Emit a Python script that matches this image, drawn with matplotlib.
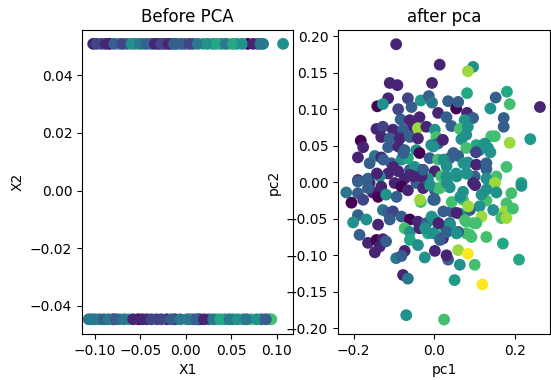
import numpy as np
import matplotlib
matplotlib.use('Agg')
import matplotlib.pyplot as plt

# color levels (0 = dark purple ... 1 = yellow)
# ---- before PCA: two rows of X2
x2_top = 0.0508
x2_bot = -0.0446
x1_top = [-0.102, -0.093, -0.084, -0.074, -0.065, -0.056, -0.047, -0.038, -0.030,
          -0.023, -0.016, -0.010, -0.001, 0.008, 0.019, 0.030, 0.039, 0.048,
          0.056, 0.068, 0.079, 0.085, 0.107,
          -0.098, -0.088, -0.079, -0.070, -0.060, -0.051, -0.043, -0.034, -0.027,
          -0.019, -0.013, -0.005, 0.004, 0.013, 0.024, 0.034, 0.044, 0.052,
          0.062, 0.074, 0.082]
c_top = [0.1, 0.2, 0.0, 0.6, 0.3, 0.5, 0.5, 0.3, 0.1,
         0.1, 0.3, 0.3, 0.3, 0.3, 0.6, 0.5, 0.5, 0.85,
         0.5, 0.0, 0.3, 0.4, 0.5,
         0.2, 0.1, 0.3, 0.2, 0.5, 0.4, 0.3, 0.1, 0.2,
         0.1, 0.3, 0.3, 0.2, 0.4, 0.5, 0.6, 0.4, 0.6,
         0.5, 0.1, 0.4]
x1_bot = [-0.107, -0.104, -0.095, -0.080, -0.073, -0.063, -0.052, -0.043, -0.032,
          -0.021, -0.012, 0.001, 0.008, 0.015, 0.025, 0.034, 0.043, 0.052,
          0.063, 0.072, 0.083, 0.092, 0.094,
          -0.100, -0.090, -0.085, -0.077, -0.068, -0.058, -0.048, -0.038, -0.027,
          -0.016, -0.006, 0.004, 0.012, 0.020, 0.030, 0.038, 0.048, 0.057,
          0.067, 0.078, 0.088]
c_bot = [0.4, 0.4, 0.4, 0.1, 0.5, 0.6, 0.0, 0.1, 0.2,
         0.1, 0.1, 0.5, 0.3, 0.0, 0.3, 0.7, 0.5, 0.5,
         0.5, 0.7, 0.3, 0.6, 0.7,
         0.4, 0.3, 0.4, 0.3, 0.4, 0.1, 0.1, 0.2, 0.2,
         0.3, 0.4, 0.4, 0.3, 0.1, 0.4, 0.6, 0.4, 0.5,
         0.4, 0.5, 0.3]

# ---- after PCA
pc1 = [-0.094, 0.014, -0.110, -0.091, -0.005, -0.114, -0.141, -0.127, -0.089, -0.065,
       -0.033, -0.013, -0.005, 0.010, -0.056, -0.083, -0.060, -0.036, -0.052, -0.040,
       -0.019, 0.002, 0.006, -0.143, -0.127, -0.102, -0.077, -0.131, -0.110, -0.085,
       -0.060, -0.040, -0.182, -0.176, -0.114, -0.089, -0.073, -0.044, -0.007, 0.010,
       -0.189, -0.147, -0.131, -0.160, -0.106, -0.081, -0.065, -0.036, -0.011, 0.010,
       -0.114, -0.089, -0.060, -0.032, -0.048, 0.002, -0.189, -0.164, -0.135, -0.073,
       -0.015, 0.018,
       0.097, 0.084, 0.082, 0.181, 0.153, 0.188, 0.140, 0.263, 0.035, 0.055,
       0.060, 0.082, 0.097, 0.076, 0.031, 0.043, 0.064, 0.084, 0.173, 0.173,
       0.142, 0.151, 0.188, 0.239, 0.068, 0.080, 0.022, 0.105, 0.126, 0.134,
       0.113, 0.080, 0.104, 0.140, 0.039, 0.060, 0.084, 0.105, 0.130, 0.130,
       0.180, 0.031, 0.055, 0.080, 0.101, 0.155, 0.130, 0.031, 0.151, 0.217,
       -0.218, -0.205, -0.189, -0.176, -0.189, -0.160, -0.152, -0.139, -0.164, -0.131,
       -0.119, -0.098, -0.081, -0.093, -0.065, -0.044, -0.027, -0.033, 0.002, 0.010,
       0.002, -0.189, -0.201, -0.168, -0.127, -0.114, -0.102, -0.110, -0.139, -0.081,
       -0.060, -0.040, -0.073, -0.060, -0.036, -0.019, -0.015, 0.002, 0.010, 0.022,
       -0.185, -0.164, -0.143, -0.127, -0.135, -0.147, -0.119, -0.073, -0.060, -0.040,
       -0.023, -0.094, -0.081, 0.002, -0.077, -0.065, -0.069, 0.025,
       0.217, 0.192, 0.180, 0.151, 0.155, 0.130, 0.130, 0.147, 0.176, 0.167,
       0.180, 0.196, 0.113, 0.118, 0.105, 0.130, 0.093, 0.080, 0.171, 0.211,
       0.060, 0.084, 0.064, 0.101, 0.051, 0.120, 0.039, 0.072, 0.097, 0.072,
       0.089, 0.064, 0.043, 0.039, 0.060, 0.031, 0.035, 0.031, 0.022, 0.080,
       -0.060, -0.031, -0.010, 0.015, 0.032, 0.056, 0.081, 0.102, 0.118, -0.035,
       -0.002, 0.044, 0.065, 0.085, 0.023, 0.056, -0.006, 0.011, 0.040, 0.077,
       0.098, -0.022, -0.002, 0.032, 0.056, 0.015, 0.089,
       -0.002, 0.023, 0.048, 0.073, 0.081, -0.027, -0.051, -0.101, -0.126, -0.142,
       -0.167, -0.076]
pc2 = [0.189, 0.161, 0.136, 0.133, 0.136, 0.115, 0.104, 0.107, 0.100, 0.115,
       0.112, 0.118, 0.109, 0.095, 0.103, 0.086, 0.085, 0.089, 0.076, 0.074,
       0.076, 0.072, 0.062, 0.073, 0.076, 0.072, 0.072, 0.062, 0.060, 0.060,
       0.062, 0.060, 0.057, 0.048, 0.048, 0.049, 0.044, 0.044, 0.051, 0.053,
       0.034, 0.036, 0.034, 0.026, 0.026, 0.031, 0.033, 0.040, 0.033, 0.031,
       0.012, 0.015, 0.017, 0.017, 0.021, 0.015, 0.003, 0.005, 0.008, 0.005,
       0.005, 0.008,
       0.158, 0.152, 0.122, 0.124, 0.116, 0.107, 0.101, 0.103, 0.111, 0.101,
       0.110, 0.095, 0.088, 0.085, 0.089, 0.077, 0.073, 0.076, 0.088, 0.076,
       0.063, 0.063, 0.054, 0.059, 0.059, 0.065, 0.058, 0.051, 0.053, 0.047,
       0.044, 0.047, 0.041, 0.041, 0.033, 0.036, 0.027, 0.024, 0.026, 0.018,
       0.021, 0.022, 0.012, 0.012, 0.008, 0.008, 0.005, 0.008, -0.001, -0.001,
       -0.014, -0.028, -0.015, -0.024, 0.001, -0.001, -0.014, -0.020, -0.008, -0.006,
       -0.017, -0.001, -0.006, -0.020, -0.011, -0.001, -0.008, -0.027, -0.011, -0.008,
       -0.024, -0.045, -0.055, -0.051, -0.038, -0.042, -0.040, -0.051, -0.058, -0.047,
       -0.051, -0.054, -0.063, -0.068, -0.063, -0.056, -0.070, -0.052, -0.065, -0.061,
       -0.072, -0.083, -0.079, -0.078, -0.088, -0.096, -0.081, -0.094, -0.079, -0.086,
       -0.103, -0.104, -0.101, -0.094, -0.127, -0.132, -0.182, -0.188,
       -0.005, -0.015, -0.029, -0.001, -0.014, -0.010, -0.025, -0.038, -0.040, -0.049,
       -0.049, -0.036, -0.033, -0.047, -0.056, -0.075, -0.075, -0.070, -0.084, -0.106,
       -0.093, -0.098, -0.113, -0.113, -0.134, -0.140, -0.007, -0.013, -0.001, -0.024,
       -0.038, -0.043, -0.040, -0.056, -0.068, -0.063, -0.106, -0.100, -0.077, -0.054,
       0.010, 0.008, -0.004, -0.008, -0.001, 0.008, 0.012, -0.004, -0.017, -0.024,
       -0.024, -0.027, -0.020, -0.033, -0.040, -0.042, -0.047, -0.056, -0.058, -0.052,
       -0.056, -0.063, -0.070, -0.068, -0.070, -0.079, -0.072,
       0.049, 0.031, 0.040, 0.026, 0.012, 0.017, 0.008, 0.021, 0.031, 0.012,
       0.003, 0.040]
pc_c = [0.1, 0.1, 0.1, 0.1, 0.1, 0.1, 0.0, 0.5, 0.2, 0.2,
        0.55, 0.3, 0.4, 0.1, 0.3, 0.3, 0.1, 0.1, 0.1, 0.85,
        0.1, 0.5, 0.7, 0.1, 0.2, 0.1, 0.3, 0.1, 0.3, 0.1,
        0.3, 0.1, 0.0, 0.1, 0.3, 0.1, 0.3, 0.5, 0.5, 0.3,
        0.1, 0.4, 0.1, 0.3, 0.3, 0.5, 0.6, 0.0, 0.3, 0.7,
        0.1, 0.1, 0.3, 0.1, 0.5, 0.1, 0.1, 0.3, 0.5, 0.1,
        0.5, 0.7,
        0.5, 0.85, 0.6, 0.6, 0.3, 0.7, 0.5, 0.1, 0.3, 0.0,
        0.3, 0.1, 0.3, 0.5, 0.3, 0.3, 0.7, 0.5, 0.3, 0.3,
        0.7, 0.7, 0.85, 0.55, 0.5, 0.5, 0.1, 0.6, 0.5, 0.5,
        0.5, 0.7, 0.2, 0.5, 0.3, 0.3, 0.5, 0.1, 0.3, 0.3,
        0.7, 0.5, 0.5, 0.7, 0.3, 0.7, 0.5, 0.5, 0.85, 0.6,
        0.4, 0.0, 0.3, 0.2, 0.3, 0.1, 0.1, 0.0, 0.3, 0.1,
        0.5, 0.1, 0.0, 0.3, 0.1, 0.3, 0.1, 0.7, 0.3, 0.7,
        0.3, 0.3, 0.5, 0.5, 0.4, 0.3, 0.2, 0.3, 0.1, 0.3,
        0.0, 0.1, 0.7, 0.5, 0.1, 0.3, 0.6, 0.5, 0.5, 0.7,
        0.3, 0.1, 0.0, 0.1, 0.1, 0.1, 0.3, 0.1, 0.6, 0.5,
        0.5, 0.4, 0.3, 0.1, 0.1, 0.4, 0.5, 0.7,
        0.5, 0.7, 0.7, 0.85, 0.5, 0.5, 0.7, 0.5, 0.85, 0.7,
        0.85, 0.7, 0.5, 0.85, 0.7, 0.7, 0.7, 0.7, 0.6, 0.6,
        0.85, 1.0, 0.5, 0.7, 0.55, 1.0, 0.5, 0.5, 0.1, 0.7,
        0.3, 0.5, 0.3, 0.3, 0.3, 0.2, 0.3, 0.1, 0.1, 0.7,
        0.1, 0.1, 0.5, 0.7, 0.5, 0.5, 0.7, 0.1, 0.5, 0.85,
        0.3, 0.7, 0.5, 0.85, 0.3, 0.1, 0.5, 0.1, 0.5, 0.7,
        0.7, 0.5, 0.5, 0.3, 0.5, 0.3, 0.7,
        0.5, 0.5, 0.3, 0.5, 0.5, 0.3, 0.1, 0.1, 0.3, 0.1,
        0.3, 0.3]

fig = plt.figure(figsize=(5.51, 3.80), dpi=100)

ax1 = fig.add_axes([82/551, 46/380, 211/551, 304/380])
ax1.scatter(x1_top, [x2_top]*len(x1_top), c=c_top, cmap='viridis', vmin=0, vmax=1, s=72, linewidths=0)
ax1.scatter(x1_bot, [x2_bot]*len(x1_bot), c=c_bot, cmap='viridis', vmin=0, vmax=1, s=72, linewidths=0)
ax1.set_xlim(-0.1143, 0.1179)
ax1.set_ylim(-0.0497, 0.0556)
ax1.set_xticks([-0.10, -0.05, 0.00, 0.05, 0.10])
ax1.set_yticks([-0.04, -0.02, 0.00, 0.02, 0.04])
ax1.set_title('Before PCA')
ax1.set_xlabel('X1')
ax1.set_ylabel('X2')

ax2 = fig.add_axes([338/551, 46/380, 212/551, 304/380])
ax2.scatter(pc1, pc2, c=pc_c, cmap='viridis', vmin=0, vmax=1, s=72, linewidths=0)
ax2.set_xlim(-0.2385, 0.288)
ax2.set_ylim(-0.2078, 0.2085)
ax2.set_xticks([-0.2, 0.0, 0.2])
ax2.set_yticks([-0.20, -0.15, -0.10, -0.05, 0.00, 0.05, 0.10, 0.15, 0.20])
ax2.set_title('after pca')
ax2.set_xlabel('pc1')
ax2.set_ylabel('pc2')

fig.savefig('out.png', dpi=100)
